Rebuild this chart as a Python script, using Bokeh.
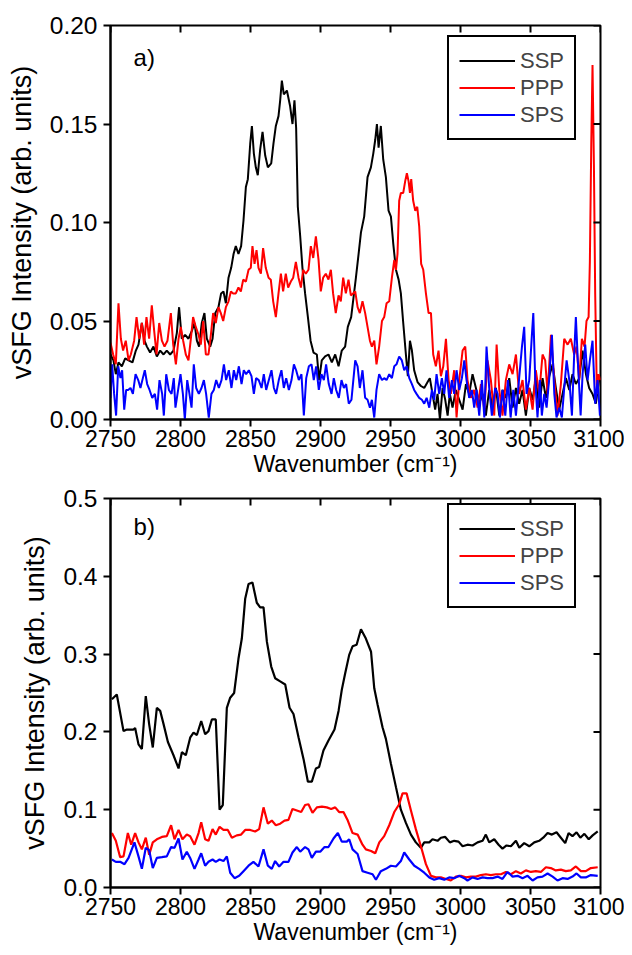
from bokeh.plotting import figure
from bokeh.models import (FixedTicker, NumeralTickFormatter,
                          Legend, LegendItem, Label, Range1d)
from bokeh.layouts import column
from bokeh.embed import file_html
from bokeh.resources import INLINE

FONT = "Liberation Sans"
X_MIN, X_MAX = 2750, 3100
X_TICKS = [2750, 2800, 2850, 2900, 2950, 3000, 3050, 3100]
A_Y_TICKS = [0.0, 0.05, 0.10, 0.15, 0.20]
B_Y_TICKS = [0.0, 0.1, 0.2, 0.3, 0.4, 0.5]
SERIES = ["SSP", "PPP", "SPS"]
COLORS = ["#000000", "#ff0000", "#0000ff"]

FRAME_W, FRAME_H = 490, 394   # plot-area size in px
TICK_PX = 7                   # length of the inward ticks on the top/right edges

# ---- panel a) (wavenumber, intensity) ----
A_SSP = [(2750.0, 0.033), (2752.1, 0.030), (2753.8, 0.023), (2755.7, 0.029), (2758.1, 0.027), (2760.5, 0.031),
         (2762.9, 0.030), (2765.7, 0.029), (2768.1, 0.035), (2770.0, 0.038), (2772.4, 0.049), (2774.3, 0.040),
         (2776.0, 0.037), (2778.3, 0.034), (2780.7, 0.037), (2783.1, 0.032), (2785.5, 0.035), (2787.9, 0.033),
         (2790.2, 0.035), (2792.6, 0.033), (2795.0, 0.035), (2797.4, 0.044), (2799.0, 0.057), (2800.9, 0.041),
         (2803.3, 0.043), (2805.7, 0.041), (2808.1, 0.045), (2810.0, 0.049), (2811.7, 0.040), (2813.3, 0.037),
         (2815.2, 0.049), (2817.1, 0.054), (2818.8, 0.041), (2821.2, 0.037), (2822.9, 0.041), (2824.8, 0.054),
         (2827.1, 0.057), (2829.0, 0.064), (2830.7, 0.065), (2832.4, 0.059), (2834.3, 0.072), (2836.2, 0.077),
         (2837.9, 0.084), (2839.5, 0.088), (2841.4, 0.084), (2843.3, 0.088), (2845.0, 0.101), (2846.7, 0.118),
         (2848.1, 0.122), (2849.8, 0.140), (2851.0, 0.149), (2852.4, 0.135), (2853.8, 0.128), (2855.2, 0.124),
         (2856.9, 0.137), (2858.6, 0.146), (2860.5, 0.134), (2862.4, 0.128), (2864.8, 0.130), (2866.4, 0.140),
         (2868.1, 0.149), (2870.0, 0.154), (2871.2, 0.162), (2872.4, 0.172), (2873.8, 0.165), (2876.0, 0.167),
         (2878.3, 0.159), (2880.0, 0.150), (2881.4, 0.162), (2882.6, 0.148), (2883.8, 0.108), (2885.5, 0.093),
         (2887.1, 0.077), (2889.0, 0.064), (2891.0, 0.052), (2892.9, 0.040), (2895.0, 0.034), (2897.4, 0.033),
         (2899.0, 0.020), (2900.9, 0.030), (2903.3, 0.032), (2905.7, 0.033), (2908.1, 0.029), (2910.5, 0.033),
         (2912.9, 0.027), (2915.2, 0.035), (2917.6, 0.037), (2919.5, 0.047), (2921.9, 0.052), (2925.3, 0.072),
         (2927.2, 0.084), (2928.9, 0.095), (2931.2, 0.103), (2933.6, 0.123), (2936.0, 0.128), (2937.7, 0.135),
         (2939.1, 0.142), (2940.3, 0.150), (2941.5, 0.138), (2943.1, 0.149), (2944.8, 0.132), (2946.7, 0.123),
         (2948.6, 0.106), (2950.3, 0.103), (2952.0, 0.089), (2953.9, 0.076), (2955.8, 0.071), (2957.4, 0.064),
         (2959.1, 0.049), (2961.0, 0.033), (2962.4, 0.022), (2963.9, 0.040), (2965.3, 0.035), (2966.9, 0.025),
         (2969.3, 0.019), (2971.7, 0.017), (2974.1, 0.016), (2976.5, 0.019), (2978.1, 0.021), (2980.0, 0.013),
         (2981.9, 0.005), (2983.6, 0.013), (2985.3, 0.000), (2987.2, 0.016), (2989.1, 0.010), (2990.8, 0.002),
         (2992.4, 0.013), (2994.3, 0.006), (2996.7, 0.015), (2999.1, 0.010), (3001.5, 0.005), (3003.9, 0.018),
         (3006.2, 0.013), (3008.6, 0.023), (3011.0, 0.016), (3013.4, 0.008), (3015.8, 0.013), (3018.1, 0.002),
         (3020.5, 0.015), (3022.9, 0.006), (3025.3, 0.016), (3027.7, 0.002), (3030.0, 0.015), (3032.4, 0.011),
         (3034.8, 0.021), (3037.2, 0.006), (3039.6, 0.016), (3041.9, 0.008), (3044.3, 0.015), (3046.7, 0.002),
         (3049.1, 0.016), (3051.5, 0.010), (3053.8, 0.021), (3056.2, 0.006), (3058.6, 0.021), (3061.0, 0.011),
         (3063.4, 0.022), (3065.8, 0.028), (3068.1, 0.016), (3070.5, 0.005), (3072.9, 0.013), (3075.3, 0.021),
         (3077.7, 0.015), (3080.0, 0.023), (3082.4, 0.018), (3084.8, 0.021), (3087.2, 0.035), (3089.6, 0.023),
         (3091.9, 0.016), (3094.3, 0.013), (3096.7, 0.008), (3099.1, 0.021)]

A_PPP = [(2750.0, 0.039), (2751.9, 0.033), (2753.8, 0.028), (2755.7, 0.059), (2757.4, 0.041), (2759.0, 0.035),
         (2760.9, 0.040), (2762.9, 0.030), (2764.5, 0.033), (2766.9, 0.040), (2768.6, 0.052), (2770.5, 0.041),
         (2772.4, 0.049), (2774.0, 0.038), (2775.7, 0.052), (2777.6, 0.041), (2779.5, 0.058), (2781.2, 0.045),
         (2782.9, 0.033), (2784.8, 0.049), (2786.7, 0.040), (2788.6, 0.037), (2790.7, 0.040), (2793.1, 0.054),
         (2794.8, 0.038), (2796.7, 0.028), (2798.6, 0.041), (2800.2, 0.047), (2801.9, 0.040), (2803.8, 0.033),
         (2805.7, 0.030), (2807.4, 0.041), (2809.0, 0.052), (2810.9, 0.047), (2812.9, 0.043), (2814.5, 0.038),
         (2816.2, 0.050), (2818.1, 0.033), (2820.0, 0.033), (2821.7, 0.043), (2823.3, 0.054), (2825.2, 0.049),
         (2827.1, 0.057), (2828.8, 0.054), (2830.5, 0.050), (2832.4, 0.057), (2834.3, 0.060), (2836.0, 0.065),
         (2837.6, 0.064), (2839.5, 0.064), (2841.4, 0.067), (2843.1, 0.065), (2844.8, 0.071), (2846.7, 0.070),
         (2848.6, 0.076), (2850.2, 0.077), (2851.4, 0.088), (2852.9, 0.079), (2854.3, 0.086), (2855.7, 0.077),
         (2857.4, 0.074), (2859.0, 0.087), (2860.9, 0.077), (2862.9, 0.072), (2864.5, 0.071), (2866.2, 0.060),
         (2868.1, 0.052), (2870.0, 0.064), (2871.7, 0.074), (2873.3, 0.065), (2875.2, 0.074), (2876.9, 0.067),
         (2878.8, 0.070), (2880.5, 0.072), (2882.4, 0.080), (2884.3, 0.072), (2886.0, 0.067), (2887.6, 0.076),
         (2889.5, 0.074), (2891.4, 0.076), (2893.1, 0.088), (2894.8, 0.082), (2896.7, 0.093), (2898.6, 0.081),
         (2900.2, 0.065), (2901.9, 0.072), (2903.8, 0.074), (2905.7, 0.071), (2907.4, 0.076), (2909.0, 0.064),
         (2910.9, 0.054), (2912.9, 0.063), (2914.5, 0.060), (2916.2, 0.072), (2918.1, 0.064), (2920.0, 0.071),
         (2921.7, 0.063), (2924.8, 0.065), (2926.5, 0.057), (2928.1, 0.054), (2930.0, 0.060), (2931.9, 0.054),
         (2933.6, 0.047), (2935.3, 0.040), (2936.7, 0.037), (2938.4, 0.040), (2940.0, 0.028), (2941.9, 0.037),
         (2943.9, 0.050), (2945.5, 0.052), (2947.2, 0.059), (2949.1, 0.060), (2951.0, 0.072), (2952.7, 0.081),
         (2953.9, 0.076), (2955.0, 0.084), (2956.2, 0.111), (2957.4, 0.115), (2959.1, 0.115), (2960.5, 0.121),
         (2961.7, 0.125), (2962.9, 0.121), (2963.9, 0.115), (2964.8, 0.122), (2966.2, 0.111), (2967.7, 0.106),
         (2969.1, 0.108), (2970.5, 0.098), (2971.9, 0.079), (2973.4, 0.076), (2975.3, 0.064), (2977.2, 0.054),
         (2978.9, 0.054), (2980.5, 0.033), (2982.4, 0.027), (2984.3, 0.035), (2986.0, 0.022), (2987.7, 0.027),
         (2989.6, 0.041), (2991.5, 0.020), (2993.1, 0.013), (2995.5, 0.025), (2997.2, 0.001), (2999.1, 0.020),
         (3001.5, 0.035), (3003.4, 0.037), (3005.0, 0.020), (3007.4, 0.011), (3009.8, 0.015), (3012.2, 0.006),
         (3014.6, 0.018), (3017.0, 0.005), (3019.3, 0.030), (3021.7, 0.020), (3024.1, 0.002), (3025.8, 0.038),
         (3027.7, 0.015), (3030.0, 0.002), (3032.4, 0.020), (3034.8, 0.028), (3037.2, 0.023), (3039.6, 0.033),
         (3041.9, 0.013), (3044.3, 0.020), (3046.7, 0.005), (3049.1, 0.016), (3051.5, 0.005), (3053.8, 0.025),
         (3056.2, 0.013), (3058.6, 0.033), (3060.5, 0.030), (3062.2, 0.013), (3064.6, 0.043), (3067.0, 0.020),
         (3069.3, 0.002), (3071.7, 0.018), (3074.1, 0.041), (3076.5, 0.038), (3078.8, 0.041), (3081.2, 0.033),
         (3082.9, 0.037), (3084.8, 0.020), (3086.7, 0.041), (3088.6, 0.037), (3090.0, 0.050), (3091.5, 0.052),
         (3092.4, 0.080), (3093.4, 0.140), (3094.3, 0.180), (3095.3, 0.129), (3096.2, 0.064), (3097.4, 0.013),
         (3098.6, 0.023), (3100.0, 0.020)]

A_SPS = [(2750.0, 0.011), (2751.2, 0.028), (2752.6, 0.013), (2754.0, 0.002), (2755.5, 0.027), (2757.1, 0.021),
         (2758.3, 0.025), (2759.8, 0.005), (2761.2, 0.015), (2762.6, 0.015), (2764.3, 0.016), (2766.0, 0.013),
         (2767.9, 0.023), (2769.8, 0.020), (2771.4, 0.016), (2773.1, 0.021), (2774.5, 0.025), (2776.2, 0.018),
         (2777.9, 0.015), (2779.8, 0.011), (2781.7, 0.013), (2783.3, 0.005), (2785.0, 0.020), (2786.9, 0.013),
         (2788.1, 0.002), (2789.8, 0.023), (2791.7, 0.015), (2793.6, 0.013), (2795.2, 0.021), (2796.4, 0.006),
         (2798.3, 0.015), (2800.0, 0.023), (2801.7, 0.013), (2803.1, 0.000), (2804.8, 0.020), (2806.4, 0.013),
         (2807.9, 0.006), (2809.5, 0.028), (2811.2, 0.016), (2813.1, 0.013), (2815.0, 0.016), (2816.7, 0.020),
         (2818.3, 0.013), (2820.2, 0.001), (2822.1, 0.013), (2823.8, 0.015), (2825.5, 0.020), (2827.4, 0.016),
         (2829.3, 0.020), (2831.0, 0.028), (2832.6, 0.020), (2834.5, 0.025), (2836.4, 0.016), (2838.1, 0.025),
         (2839.8, 0.020), (2841.7, 0.027), (2843.6, 0.018), (2845.2, 0.025), (2846.9, 0.023), (2848.8, 0.025),
         (2850.7, 0.022), (2852.4, 0.013), (2854.0, 0.021), (2855.9, 0.020), (2857.9, 0.016), (2859.5, 0.023),
         (2861.2, 0.015), (2863.1, 0.020), (2865.0, 0.025), (2866.7, 0.016), (2868.3, 0.013), (2870.2, 0.020),
         (2872.1, 0.025), (2873.8, 0.016), (2875.5, 0.021), (2877.4, 0.015), (2879.3, 0.020), (2881.0, 0.028),
         (2882.6, 0.025), (2884.5, 0.020), (2886.4, 0.023), (2888.1, 0.002), (2889.8, 0.021), (2891.7, 0.027),
         (2893.6, 0.028), (2895.2, 0.020), (2896.9, 0.027), (2898.8, 0.015), (2900.7, 0.023), (2902.4, 0.020),
         (2904.0, 0.028), (2905.9, 0.018), (2907.9, 0.013), (2909.5, 0.021), (2911.2, 0.015), (2913.1, 0.011),
         (2915.0, 0.020), (2916.7, 0.016), (2918.3, 0.018), (2920.2, 0.008), (2922.1, 0.010), (2924.8, 0.030),
         (2926.5, 0.027), (2928.1, 0.016), (2930.0, 0.025), (2931.9, 0.011), (2933.6, 0.010), (2935.3, 0.006),
         (2936.7, 0.010), (2938.4, 0.001), (2940.0, 0.015), (2941.9, 0.023), (2943.9, 0.020), (2945.5, 0.021),
         (2947.2, 0.020), (2949.1, 0.023), (2951.0, 0.021), (2952.7, 0.027), (2954.3, 0.028), (2956.2, 0.032),
         (2958.1, 0.030), (2959.8, 0.025), (2961.5, 0.027), (2963.4, 0.021), (2965.3, 0.018), (2966.9, 0.015),
         (2968.6, 0.013), (2970.5, 0.011), (2972.4, 0.010), (2974.1, 0.008), (2975.8, 0.011), (2977.7, 0.006),
         (2979.6, 0.015), (2981.2, 0.010), (2982.9, 0.023), (2984.8, 0.013), (2986.7, 0.021), (2988.4, 0.013),
         (2990.0, 0.025), (2991.9, 0.011), (2993.9, 0.020), (2995.5, 0.013), (2997.2, 0.025), (2999.1, 0.015),
         (3001.0, 0.021), (3002.7, 0.030), (3004.3, 0.020), (3006.2, 0.011), (3008.1, 0.015), (3009.8, 0.006),
         (3011.5, 0.015), (3013.4, 0.002), (3015.3, 0.020), (3017.0, 0.001), (3018.6, 0.037), (3020.5, 0.016),
         (3022.4, 0.002), (3024.8, 0.016), (3026.5, 0.013), (3028.1, 0.001), (3030.0, 0.015), (3032.0, 0.002),
         (3033.9, 0.020), (3035.8, 0.001), (3037.7, 0.015), (3039.6, 0.002), (3041.9, 0.021), (3043.9, 0.037),
         (3045.5, 0.047), (3047.2, 0.013), (3049.1, 0.020), (3051.0, 0.043), (3052.0, 0.054), (3053.4, 0.020),
         (3055.0, 0.001), (3056.7, 0.020), (3058.1, 0.002), (3059.8, 0.013), (3061.5, 0.006), (3063.4, 0.021),
         (3065.3, 0.043), (3067.0, 0.013), (3068.6, 0.001), (3070.5, 0.006), (3072.4, 0.001), (3074.1, 0.016),
         (3075.8, 0.030), (3077.7, 0.020), (3079.6, 0.002), (3081.2, 0.033), (3082.4, 0.052), (3083.8, 0.030),
         (3085.8, 0.002), (3087.2, 0.023), (3089.1, 0.038), (3090.8, 0.020), (3092.4, 0.030), (3094.3, 0.040),
         (3096.2, 0.008), (3097.9, 0.020), (3099.6, 0.002)]

# ---- panel b) (wavenumber, intensity) ----
B_SSP = [(2751.0, 0.242), (2754.5, 0.248), (2759.3, 0.201), (2761.7, 0.203), (2766.4, 0.203), (2767.6, 0.205),
         (2770.0, 0.184), (2772.4, 0.178), (2775.2, 0.246), (2777.6, 0.210), (2780.2, 0.180), (2783.1, 0.231),
         (2785.5, 0.227), (2787.9, 0.210), (2791.0, 0.187), (2795.0, 0.170), (2798.6, 0.153), (2801.0, 0.174),
         (2803.8, 0.170), (2807.0, 0.193), (2809.3, 0.199), (2811.7, 0.196), (2814.8, 0.214), (2817.6, 0.197),
         (2820.0, 0.201), (2822.4, 0.216), (2825.2, 0.216), (2827.9, 0.100), (2830.2, 0.106), (2833.1, 0.231),
         (2835.5, 0.244), (2838.3, 0.250), (2841.4, 0.294), (2843.8, 0.320), (2846.2, 0.371), (2848.6, 0.390),
         (2851.4, 0.392), (2854.5, 0.366), (2856.9, 0.360), (2859.3, 0.360), (2861.7, 0.316), (2864.8, 0.284),
         (2867.6, 0.269), (2871.2, 0.265), (2874.8, 0.261), (2877.9, 0.231), (2880.7, 0.223), (2884.3, 0.193),
         (2887.9, 0.165), (2891.0, 0.136), (2893.8, 0.136), (2896.7, 0.153), (2899.0, 0.155), (2902.1, 0.176),
         (2905.7, 0.189), (2910.0, 0.203), (2912.9, 0.227), (2915.2, 0.254), (2917.6, 0.275), (2920.5, 0.299),
         (2922.9, 0.310), (2925.8, 0.312), (2928.9, 0.332), (2932.4, 0.320), (2936.1, 0.303), (2938.4, 0.256),
         (2940.8, 0.235), (2944.3, 0.206), (2946.7, 0.191), (2950.3, 0.159), (2953.9, 0.129), (2957.4, 0.100),
         (2961.0, 0.083), (2964.6, 0.068), (2968.1, 0.058), (2971.7, 0.051), (2974.1, 0.058), (2977.7, 0.058),
         (2980.0, 0.062), (2983.6, 0.060), (2986.0, 0.064), (2989.1, 0.065), (2992.4, 0.058), (2995.5, 0.060),
         (2998.6, 0.059), (3001.5, 0.053), (3005.0, 0.055), (3008.6, 0.054), (3012.2, 0.058), (3015.8, 0.060),
         (3018.1, 0.068), (3020.5, 0.058), (3024.1, 0.062), (3027.2, 0.055), (3030.0, 0.050), (3032.9, 0.054),
         (3036.0, 0.053), (3039.6, 0.060), (3042.0, 0.051), (3045.5, 0.057), (3049.1, 0.053), (3052.7, 0.058),
         (3056.2, 0.060), (3059.1, 0.064), (3062.2, 0.070), (3065.3, 0.068), (3068.6, 0.071), (3071.7, 0.064),
         (3074.8, 0.057), (3077.2, 0.070), (3080.0, 0.066), (3082.9, 0.071), (3085.6, 0.064), (3088.5, 0.069),
         (3091.6, 0.062), (3094.4, 0.067), (3098.0, 0.072)]

B_PPP = [(2751.0, 0.070), (2753.8, 0.060), (2756.9, 0.039), (2759.3, 0.040), (2762.4, 0.070), (2764.8, 0.055),
         (2767.6, 0.070), (2770.0, 0.058), (2772.4, 0.049), (2775.2, 0.064), (2777.6, 0.042), (2780.2, 0.058),
         (2783.1, 0.062), (2786.7, 0.065), (2790.2, 0.066), (2793.3, 0.080), (2795.7, 0.062), (2798.6, 0.074),
         (2801.4, 0.062), (2804.5, 0.068), (2806.9, 0.066), (2810.0, 0.055), (2812.9, 0.070), (2814.8, 0.084),
         (2817.6, 0.062), (2820.0, 0.060), (2822.9, 0.075), (2825.2, 0.068), (2827.9, 0.078), (2830.7, 0.074),
         (2833.8, 0.074), (2836.7, 0.064), (2840.2, 0.067), (2843.3, 0.068), (2846.2, 0.074), (2849.8, 0.074),
         (2853.3, 0.072), (2856.2, 0.075), (2859.3, 0.103), (2862.4, 0.082), (2865.2, 0.086), (2868.1, 0.080),
         (2871.2, 0.082), (2874.3, 0.086), (2877.1, 0.087), (2880.0, 0.101), (2883.1, 0.099), (2886.2, 0.097),
         (2889.0, 0.106), (2891.4, 0.107), (2894.3, 0.096), (2897.4, 0.103), (2901.0, 0.104), (2904.5, 0.103),
         (2907.6, 0.101), (2910.5, 0.103), (2913.3, 0.097), (2916.4, 0.097), (2919.5, 0.086), (2922.9, 0.070),
         (2926.5, 0.068), (2930.0, 0.055), (2932.4, 0.049), (2936.1, 0.047), (2939.1, 0.044), (2942.0, 0.058),
         (2945.5, 0.066), (2949.1, 0.080), (2952.7, 0.097), (2956.2, 0.107), (2958.6, 0.121), (2961.5, 0.121),
         (2964.6, 0.099), (2968.1, 0.075), (2971.7, 0.053), (2975.3, 0.030), (2978.9, 0.015), (2982.4, 0.013),
         (2986.0, 0.013), (2989.6, 0.011), (2993.1, 0.009), (2996.7, 0.014), (3000.3, 0.015), (3003.9, 0.013),
         (3007.4, 0.014), (3011.0, 0.014), (3014.6, 0.016), (3018.1, 0.017), (3021.7, 0.016), (3025.3, 0.017),
         (3028.9, 0.017), (3032.4, 0.020), (3036.0, 0.017), (3039.6, 0.021), (3043.1, 0.018), (3046.7, 0.022),
         (3050.3, 0.020), (3053.8, 0.021), (3057.4, 0.020), (3061.0, 0.026), (3064.5, 0.025), (3068.1, 0.022),
         (3071.7, 0.023), (3075.2, 0.021), (3078.8, 0.022), (3082.4, 0.027), (3086.0, 0.021), (3089.5, 0.021),
         (3093.1, 0.025), (3098.0, 0.026)]

B_SPS = [(2751.0, 0.036), (2753.8, 0.033), (2756.9, 0.033), (2760.0, 0.030), (2762.9, 0.038), (2767.1, 0.058),
         (2770.0, 0.040), (2772.4, 0.024), (2775.2, 0.051), (2777.6, 0.048), (2780.2, 0.025), (2783.1, 0.038),
         (2786.7, 0.039), (2790.2, 0.040), (2793.3, 0.052), (2795.7, 0.051), (2798.6, 0.063), (2801.4, 0.036),
         (2804.5, 0.046), (2806.9, 0.038), (2810.0, 0.024), (2812.9, 0.036), (2814.8, 0.044), (2817.6, 0.028),
         (2820.0, 0.033), (2822.9, 0.036), (2825.2, 0.033), (2827.9, 0.036), (2830.7, 0.034), (2833.1, 0.040),
         (2835.5, 0.019), (2838.6, 0.012), (2841.9, 0.015), (2845.0, 0.021), (2848.6, 0.028), (2852.1, 0.033),
         (2855.7, 0.027), (2859.3, 0.049), (2862.4, 0.028), (2865.2, 0.024), (2867.6, 0.034), (2870.5, 0.027),
         (2873.6, 0.033), (2877.1, 0.033), (2880.0, 0.045), (2883.1, 0.052), (2885.5, 0.046), (2889.0, 0.052),
         (2891.4, 0.049), (2893.8, 0.038), (2896.7, 0.046), (2899.8, 0.046), (2902.9, 0.052), (2905.7, 0.052),
         (2909.3, 0.063), (2912.4, 0.070), (2915.2, 0.059), (2918.8, 0.059), (2920.5, 0.062), (2922.9, 0.049),
         (2926.5, 0.043), (2930.0, 0.021), (2933.6, 0.019), (2937.2, 0.017), (2939.6, 0.010), (2943.1, 0.021),
         (2946.7, 0.024), (2950.3, 0.028), (2953.9, 0.027), (2957.4, 0.034), (2959.8, 0.045), (2963.4, 0.036),
         (2967.0, 0.028), (2970.5, 0.024), (2974.1, 0.019), (2977.7, 0.013), (2981.2, 0.010), (2984.8, 0.012),
         (2988.4, 0.010), (2991.9, 0.013), (2995.5, 0.012), (2999.1, 0.015), (3002.7, 0.012), (3005.0, 0.009),
         (3008.6, 0.013), (3012.2, 0.011), (3015.8, 0.013), (3019.3, 0.012), (3022.9, 0.012), (3026.5, 0.014),
         (3030.0, 0.011), (3033.6, 0.020), (3037.2, 0.014), (3040.8, 0.015), (3044.3, 0.012), (3047.9, 0.015),
         (3051.5, 0.009), (3055.0, 0.013), (3058.6, 0.014), (3062.2, 0.018), (3065.8, 0.014), (3069.3, 0.009),
         (3072.9, 0.012), (3076.5, 0.011), (3080.0, 0.014), (3082.9, 0.018), (3086.0, 0.013), (3089.5, 0.013),
         (3093.1, 0.016), (3098.0, 0.015)]


def style_axis(ax, tick_size, label_size):
    ax.axis_line_width = 2
    ax.axis_line_color = "black"
    ax.major_tick_line_width = 2
    ax.major_tick_line_color = "black"
    ax.minor_tick_line_color = None
    ax.major_tick_in = 0
    ax.major_tick_out = 7
    ax.major_label_text_font = FONT
    ax.major_label_text_font_size = tick_size
    ax.major_label_text_color = "black"
    ax.axis_label_text_font = FONT
    ax.axis_label_text_font_size = label_size
    ax.axis_label_text_font_style = "normal"
    ax.axis_label_text_color = "black"


def make_panel(data, y_max, y_ticks, y_fmt, tag, tag_y, lw, top_border, bottom_border):
    p = figure(width=624, height=top_border + FRAME_H + bottom_border,
               x_range=Range1d(X_MIN, X_MAX), y_range=Range1d(0, y_max),
               output_backend="svg", toolbar_location=None,
               min_border_left=110, min_border_right=24,
               min_border_top=top_border, min_border_bottom=bottom_border,
               background_fill_color="white", border_fill_color="white")
    p.grid.visible = False
    p.outline_line_color = "black"
    p.outline_line_width = 2

    p.xaxis.ticker = FixedTicker(ticks=X_TICKS)
    p.yaxis.ticker = FixedTicker(ticks=y_ticks)
    p.yaxis.formatter = NumeralTickFormatter(format=y_fmt)
    p.xaxis.axis_label = "Wavenumber (cm\u207b\u00b9)"
    p.yaxis.axis_label = "vSFG Intensity (arb. units)"
    style_axis(p.xaxis[0], "23px", "23px")
    style_axis(p.yaxis[0], "24.5px", "27px")
    p.xaxis.major_label_standoff = 3
    p.xaxis.axis_label_standoff = 1
    p.yaxis.major_label_standoff = 6
    p.yaxis.axis_label_standoff = 10

    # mirrored inward ticks on the top and right frame edges, drawn as one broken line each
    nan = float("nan")
    dy = TICK_PX * y_max / FRAME_H
    dx = TICK_PX * (X_MAX - X_MIN) / FRAME_W
    tx, ty = [], []
    for t in X_TICKS:
        tx += [t, t, nan]
        ty += [y_max, y_max - dy, nan]
    rx, ry = [], []
    for t in y_ticks:
        rx += [X_MAX, X_MAX - dx, nan]
        ry += [t, t, nan]

    items = []
    for name, color, pts in zip(SERIES, COLORS, data):
        xs = [a for a, _ in pts]
        ys = [b for _, b in pts]
        r = p.line(xs, ys, line_color=color, line_width=lw)
        items.append(LegendItem(label=name, renderers=[r]))

    p.line(tx, ty, line_color="black", line_width=2)
    p.line(rx, ry, line_color="black", line_width=2)

    leg = Legend(items=items, location=(337, 279))
    leg.border_line_color = "black"
    leg.border_line_width = 2
    leg.border_line_alpha = 1
    leg.background_fill_color = "white"
    leg.background_fill_alpha = 1
    leg.label_text_font = FONT
    leg.label_text_font_size = "22px"
    leg.glyph_width = 56
    leg.glyph_height = 27
    leg.label_height = 27
    leg.label_standoff = 5
    leg.spacing = 0
    leg.padding = 10
    leg.margin = 0
    p.add_layout(leg)

    p.add_layout(Label(x=2766.5, y=tag_y, text=tag, text_font=FONT,
                       text_font_size="24px", text_color="black"))
    return p


pa = make_panel([A_SSP, A_PPP, A_SPS], 0.20, A_Y_TICKS, "0.00", "a)", 0.177, 2.0, 25, 65)
pb = make_panel([B_SSP, B_PPP, B_SPS], 0.5, B_Y_TICKS, "0.0", "b)", 0.447, 2.2, 14, 55)

layout = column(pa, pb)
open("out.html", "w").write(file_html(layout, INLINE))
